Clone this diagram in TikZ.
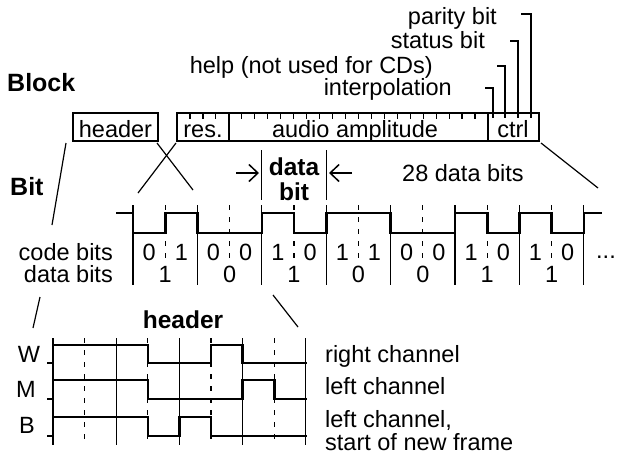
\documentclass[tikz,border=0pt]{standalone}
\usepackage{fontspec}
\setmainfont{Liberation Sans}
\usetikzlibrary{arrows.meta}
\begin{document}
\begin{tikzpicture}[x=1pt,y=-1pt,
  txt/.style={font=\fontsize{23.5}{26}\selectfont, inner sep=0pt, anchor=base},
  btxt/.style={font=\fontsize{24.5}{28}\selectfont\bfseries, inner sep=0pt, anchor=base},
  wave/.style={line width=2.6pt, line join=miter, line cap=rect},
  thinl/.style={line width=1.2pt},
  boxl/.style={line width=1.8pt},
  dsh/.style={line width=1.2pt, dash pattern=on 5pt off 7pt},
  arr/.style={line width=1.5pt, -{Straight Barb[length=9pt,width=17pt,line width=1.5pt]}},
]
\useasboundingbox (0,0) rectangle (617,456);

% ---------- Block row ----------
\node[btxt, font=\fontsize{25}{28}\selectfont\bfseries, anchor=base west] (blk) at (7,91) {Block};
\draw[boxl] (73,113) rectangle (158,141);
\node[txt] (hdr) at (115.5,137) {header};
\draw[boxl] (177,113) rectangle (539,141);
\draw[boxl] (229,113) -- (229,141);
\draw[boxl] (488,113) -- (488,141);
\foreach \i in {1,...,23} {
  \ifnum\i=4\else
  \draw[thinl] ({177+\i*311/24},113) -- ({177+\i*311/24},118.5);
  \fi
}
\node[txt] (res) at (203,137) {res.};
\node[txt] (amp) at (355,137) {audio amplitude};
\node[txt] (ctrl) at (513,137) {ctrl};

% leaders for control bits
\coordinate (p1) at (531,118);
\coordinate (p2) at (518,118);
\coordinate (p3) at (505,118);
\coordinate (p4) at (493,118);
\draw[thinl] (521,14) -- (531,14) -- (p1);
\draw[thinl] (510,41) -- (518,41) -- (p2);
\draw[thinl] (497,66) -- (505,66) -- (p3);
\draw[thinl] (485,88) -- (493,88) -- (p4);
\node[txt, anchor=base east] (par) at (497,24) {parity bit};
\node[txt, anchor=base east] (sta) at (485,48) {status bit};
\node[txt, anchor=base east] (hlp) at (433,73) {help (not used for CDs)};
\node[txt, anchor=base east] (itp) at (452,95) {interpolation};

% ---------- Bit row ----------
\node[btxt, font=\fontsize{25}{28}\selectfont\bfseries, anchor=base west] (bit) at (10,195) {Bit};

% diagonals
\draw[thinl] (66,143) -- (52,225);
\draw[thinl] (40,297) -- (33,328);
\draw[thinl] (157,143) -- (193,190);
\draw[thinl] (273,295) -- (298,327);
\draw[thinl] (176,143) -- (138,193);
\draw[thinl] (541,143) -- (598,188);

% grid
\foreach \k in {0,...,7} {
  \draw[thinl] ({133+\k*64.4},205) -- ({133+\k*64.4},285);
}
\foreach \k in {0,...,6} {
  \draw[dsh] ({133+32.2+\k*64.4},205) -- ({133+32.2+\k*64.4},264);
}
\draw[wave] (117,213) -- (133,213) -- (133,233) -- (165.2,233) -- (165.2,213)
  -- (197.4,213) -- (197.4,233) -- (261.8,233) -- (261.8,213) -- (294,213)
  -- (294,233) -- (326.2,233) -- (326.2,213) -- (390.6,213) -- (390.6,233)
  -- (455,233) -- (455,213) -- (487.2,213) -- (487.2,233) -- (519.4,233)
  -- (519.4,213) -- (551.6,213) -- (551.6,233) -- (583.8,233) -- (583.8,213)
  -- (601,213);

% data bit marker
\draw[thinl] (261.8,150) -- (261.8,200);
\draw[thinl] (326.2,150) -- (326.2,200);
\draw[arr] (236,173) -- (259,173);
\draw[arr] (352,173) -- (329,173);
\node[btxt] (db1) at (294,175) {data};
\node[btxt] (db2) at (294,200) {bit};
\node[txt, anchor=base west] (n28) at (402,181) {28 data bits};

\node[txt, anchor=base east] (cb) at (113,260) {code bits};
\node[txt, anchor=base east] (dbl) at (113,282) {data bits};
\foreach \d [count=\i from 0] in {0,1,0,0,1,0,1,1,0,0,1,0,1,0} {
  \node[txt] at ({133+16.1+\i*32.2},260) {\d};
}
\foreach \d [count=\i from 0] in {1,0,1,0,0,1,1} {
  \node[txt] at ({133+32.2+\i*64.4},282) {\d};
}
\node[txt, anchor=base west] (dots) at (596,258) {...};

% ---------- Header detail ----------
\node[btxt] (hh) at (183,328) {header};
\foreach \k in {0,2,4,6,8} {
  \draw[thinl] ({53+\k*31.6},338) -- ({53+\k*31.6},445);
}
\foreach \k in {1,3,5,7} {
  \draw[dsh] ({53+\k*31.6},338) -- ({53+\k*31.6},445);
}
\draw[wave] (48,363) -- (53,363) -- (53,345) -- (147.8,345) -- (147.8,363)
  -- (211,363) -- (211,345) -- (242.6,345) -- (242.6,363) -- (305.8,363);
\draw[wave] (48,399) -- (53,399) -- (53,380) -- (147.8,380) -- (147.8,399)
  -- (242.6,399) -- (242.6,380) -- (274.2,380) -- (274.2,399) -- (305.8,399);
\draw[wave] (48,436) -- (53,436) -- (53,417) -- (147.8,417) -- (147.8,436)
  -- (179.4,436) -- (179.4,417) -- (211,417) -- (211,436) -- (305.8,436);

\node[txt] (W) at (29,362) {W};
\node[txt] (M) at (26,397) {M};
\node[txt] (B) at (27,433) {B};
\node[txt, anchor=base west] (rc) at (325,362) {right channel};
\node[txt, anchor=base west] (lc) at (325,394) {left channel};
\node[txt, anchor=base west] (lc2) at (325,427) {left channel,};
\node[txt, anchor=base west] (snf) at (325,450) {start of new frame};
\end{tikzpicture}
\end{document}
